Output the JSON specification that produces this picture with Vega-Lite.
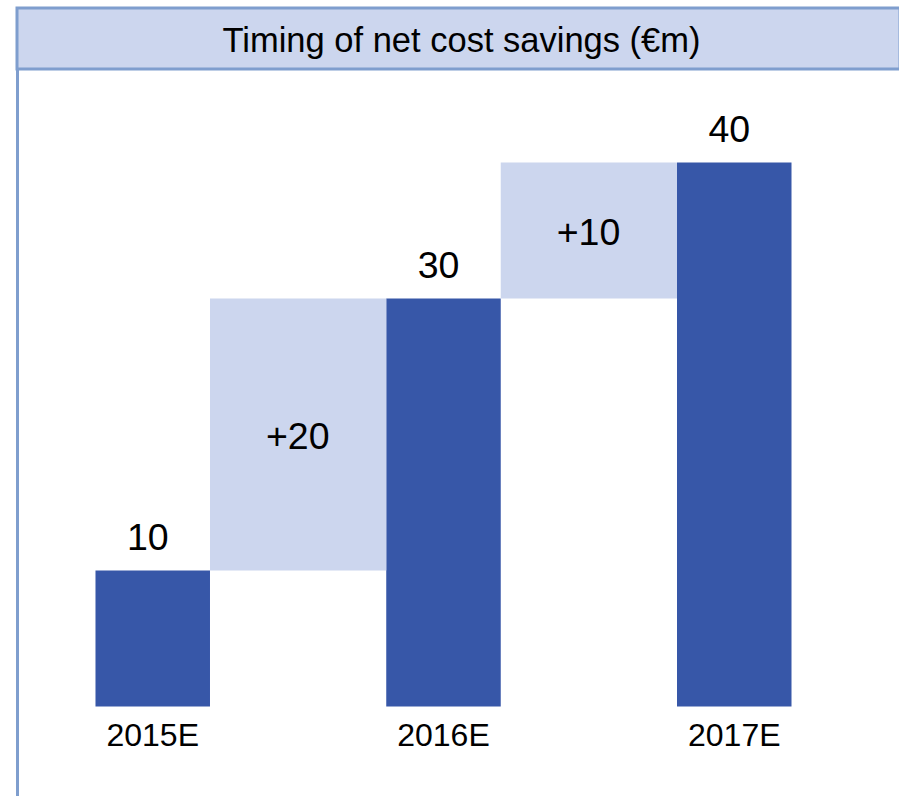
{
  "$schema": "https://vega.github.io/schema/vega-lite/v6.json",
  "padding": {"left": 15, "top": 6, "right": -2, "bottom": 0},
  "config": {"font": "Liberation Sans"},
  "datasets": {
    "header": [{"title": "Timing of net cost savings (€m)"}],
    "totals": [
      {"year": "2015E", "value": 10},
      {"year": "2016E", "value": 30},
      {"year": "2017E", "value": 40}
    ],
    "steps": [
      {"from": "2015E", "to": "2016E", "start": 10, "end": 30, "mid": 20, "label": "+20"},
      {"from": "2016E", "to": "2017E", "start": 30, "end": 40, "mid": 35, "label": "+10"}
    ]
  },
  "vconcat": [
    {
      "width": 883,
      "height": 61,
      "view": {"fill": "#CCD6EE", "stroke": "#7F9ECE", "strokeWidth": 3},
      "data": {"name": "header"},
      "mark": {"type": "text", "fontSize": 34.5, "color": "#000000", "baseline": "alphabetic", "align": "center", "dx": 3, "dy": 13},
      "encoding": {"text": {"field": "title"}}
    },
    {
      "width": 881,
      "height": 727.5,
      "view": {"stroke": null},
      "encoding": {},
      "layer": [
        {
          "data": {"name": "totals"},
          "mark": {"type": "bar", "color": "#3757A8"},
          "encoding": {
            "x": {"field": "year", "type": "nominal", "axis": null,
                  "scale": {"type": "band", "paddingInner": 0.6062, "paddingOuter": 0.3181, "align": 0.4243}},
            "y": {"field": "value", "type": "quantitative",
                  "scale": {"domain": [-6.618, 46.875], "nice": false, "zero": false},
                  "axis": {"domain": true, "domainColor": "#7F9ECE", "domainWidth": 3, "labels": false, "ticks": false, "grid": false, "title": null}},
            "y2": {"datum": 0}
          }
        },
        {
          "data": {"name": "steps"},
          "mark": {"type": "rect", "color": "#CCD6EE"},
          "encoding": {
            "x": {"field": "from", "type": "nominal", "bandPosition": 1},
            "x2": {"field": "to", "bandPosition": 0},
            "y": {"field": "start", "type": "quantitative"},
            "y2": {"field": "end"}
          }
        },
        {
          "data": {"name": "totals"},
          "mark": {"type": "text", "fontSize": 37.5, "color": "#000000", "baseline": "alphabetic", "dx": -5, "dy": -20},
          "encoding": {
            "x": {"field": "year", "type": "nominal"},
            "y": {"field": "value", "type": "quantitative"},
            "text": {"field": "value", "type": "quantitative"}
          }
        },
        {
          "data": {"name": "steps"},
          "mark": {"type": "text", "fontSize": 37.5, "color": "#000000", "baseline": "alphabetic", "dx": 145, "dy": 14.5},
          "encoding": {
            "x": {"field": "from", "type": "nominal"},
            "y": {"field": "mid", "type": "quantitative"},
            "text": {"field": "label"}
          }
        },
        {
          "data": {"name": "totals"},
          "mark": {"type": "text", "fontSize": 32, "color": "#000000", "baseline": "alphabetic", "dy": 40},
          "encoding": {
            "x": {"field": "year", "type": "nominal"},
            "y": {"datum": 0},
            "text": {"field": "year"}
          }
        }
      ]
    }
  ],
  "spacing": 0,
  "bounds": "flush"
}
